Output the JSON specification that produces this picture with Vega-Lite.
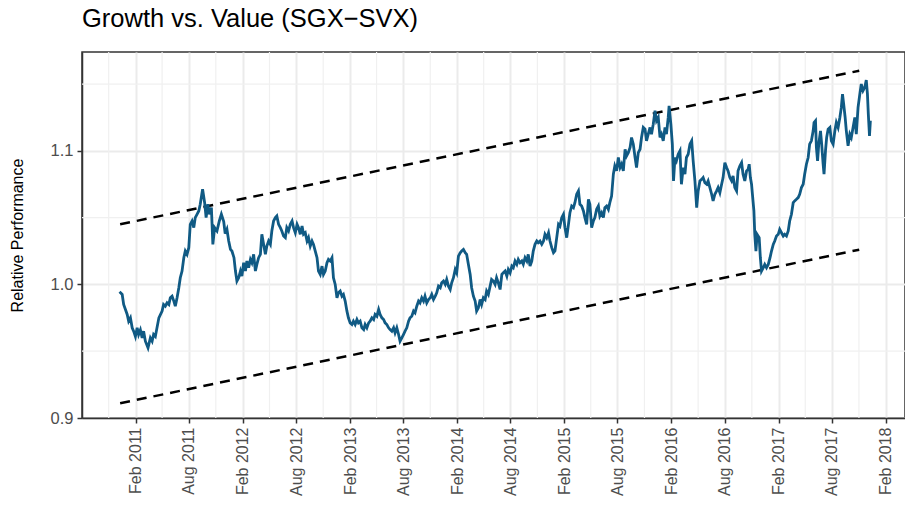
{
  "$schema": "https://vega.github.io/schema/vega-lite/v6.json",
  "autosize": "none",
  "width": 823,
  "height": 366,
  "padding": {"left": 82, "top": 52, "right": 0, "bottom": 111},
  "background": "white",
  "config": {
    "font": "Liberation Sans",
    "view": {"stroke": "#333333", "strokeWidth": 1.5},
    "title": {"fontSize": 25.5, "fontWeight": "normal", "color": "#000000", "anchor": "start", "frame": "group", "offset": 19}
  },
  "title": "Growth vs. Value (SGX−SVX)",
  "datasets": {
    "minorx": [
      {"date": "2010-11-01"}, {"date": "2011-05-02"}, {"date": "2011-11-01"}, {"date": "2012-05-02"},
      {"date": "2012-11-01"}, {"date": "2013-05-02"}, {"date": "2013-11-01"}, {"date": "2014-05-02"},
      {"date": "2014-11-01"}, {"date": "2015-05-02"}, {"date": "2015-11-01"}, {"date": "2016-05-02"},
      {"date": "2016-11-01"}, {"date": "2017-05-02"}, {"date": "2017-11-01"}
    ],
    "minory": [{"value": 0.95}, {"value": 1.05}, {"value": 1.15}],
    "channel": [
      {"date": "2010-12-10", "value": 1.045, "band": "upper"},
      {"date": "2017-11-02", "value": 1.160, "band": "upper"},
      {"date": "2010-12-10", "value": 0.911, "band": "lower"},
      {"date": "2017-11-02", "value": 1.026, "band": "lower"}
    ],
    "perf": [
      {"date": "2010-12-08", "value": 0.9945}, {"date": "2010-12-17", "value": 0.9925}, {"date": "2010-12-22", "value": 0.985},
      {"date": "2011-01-03", "value": 0.9775}, {"date": "2011-01-08", "value": 0.9725}, {"date": "2011-01-14", "value": 0.975},
      {"date": "2011-01-20", "value": 0.9675}, {"date": "2011-01-25", "value": 0.965}, {"date": "2011-01-31", "value": 0.961},
      {"date": "2011-02-06", "value": 0.9675}, {"date": "2011-02-11", "value": 0.9625}, {"date": "2011-02-17", "value": 0.966},
      {"date": "2011-02-23", "value": 0.96}, {"date": "2011-02-28", "value": 0.965}, {"date": "2011-03-06", "value": 0.9575},
      {"date": "2011-03-15", "value": 0.9525}, {"date": "2011-03-23", "value": 0.96}, {"date": "2011-03-29", "value": 0.9575},
      {"date": "2011-04-03", "value": 0.9625}, {"date": "2011-04-09", "value": 0.961}, {"date": "2011-04-21", "value": 0.975},
      {"date": "2011-05-02", "value": 0.98}, {"date": "2011-05-07", "value": 0.985}, {"date": "2011-05-13", "value": 0.9837},
      {"date": "2011-05-19", "value": 0.9862}, {"date": "2011-05-25", "value": 0.985}, {"date": "2011-05-30", "value": 0.99},
      {"date": "2011-06-05", "value": 0.9912}, {"date": "2011-06-11", "value": 0.9875}, {"date": "2011-06-16", "value": 0.9837},
      {"date": "2011-06-22", "value": 0.99}, {"date": "2011-06-28", "value": 0.9975}, {"date": "2011-07-03", "value": 1.005},
      {"date": "2011-07-09", "value": 1.01}, {"date": "2011-07-15", "value": 1.02}, {"date": "2011-07-20", "value": 1.025},
      {"date": "2011-07-26", "value": 1.0225}, {"date": "2011-08-01", "value": 1.0275}, {"date": "2011-08-06", "value": 1.045},
      {"date": "2011-08-12", "value": 1.0475}, {"date": "2011-08-18", "value": 1.0425}, {"date": "2011-08-23", "value": 1.05},
      {"date": "2011-08-29", "value": 1.0525}, {"date": "2011-09-04", "value": 1.055}, {"date": "2011-09-09", "value": 1.06},
      {"date": "2011-09-17", "value": 1.0713}, {"date": "2011-09-24", "value": 1.0612}, {"date": "2011-09-29", "value": 1.05},
      {"date": "2011-10-05", "value": 1.06}, {"date": "2011-10-10", "value": 1.0525}, {"date": "2011-10-17", "value": 1.0575},
      {"date": "2011-10-22", "value": 1.03}, {"date": "2011-10-28", "value": 1.0425}, {"date": "2011-11-05", "value": 1.04},
      {"date": "2011-11-13", "value": 1.0475}, {"date": "2011-11-20", "value": 1.0525}, {"date": "2011-11-28", "value": 1.047},
      {"date": "2011-12-03", "value": 1.038}, {"date": "2011-12-09", "value": 1.0413}, {"date": "2011-12-15", "value": 1.0325},
      {"date": "2011-12-21", "value": 1.0263}, {"date": "2011-12-26", "value": 1.025}, {"date": "2012-01-02", "value": 1.02},
      {"date": "2012-01-07", "value": 1.01}, {"date": "2012-01-12", "value": 1.0025}, {"date": "2012-01-18", "value": 1.005},
      {"date": "2012-01-24", "value": 1.01}, {"date": "2012-01-29", "value": 1.0062}, {"date": "2012-02-04", "value": 1.0162},
      {"date": "2012-02-10", "value": 1.01}, {"date": "2012-02-15", "value": 1.0175}, {"date": "2012-02-21", "value": 1.0125},
      {"date": "2012-02-27", "value": 1.0187}, {"date": "2012-03-03", "value": 1.0162}, {"date": "2012-03-09", "value": 1.0225},
      {"date": "2012-03-15", "value": 1.01}, {"date": "2012-03-20", "value": 1.015}, {"date": "2012-03-26", "value": 1.02},
      {"date": "2012-04-01", "value": 1.0225}, {"date": "2012-04-06", "value": 1.0375}, {"date": "2012-04-12", "value": 1.03},
      {"date": "2012-04-18", "value": 1.0225}, {"date": "2012-04-23", "value": 1.0287}, {"date": "2012-04-29", "value": 1.0325},
      {"date": "2012-05-05", "value": 1.03}, {"date": "2012-05-10", "value": 1.04}, {"date": "2012-05-16", "value": 1.0475},
      {"date": "2012-05-22", "value": 1.05}, {"date": "2012-05-27", "value": 1.0512}, {"date": "2012-06-02", "value": 1.045},
      {"date": "2012-06-08", "value": 1.0425}, {"date": "2012-06-13", "value": 1.04}, {"date": "2012-06-19", "value": 1.0362},
      {"date": "2012-06-25", "value": 1.035}, {"date": "2012-06-30", "value": 1.0425}, {"date": "2012-07-06", "value": 1.04},
      {"date": "2012-07-12", "value": 1.045}, {"date": "2012-07-18", "value": 1.0475}, {"date": "2012-07-23", "value": 1.0425},
      {"date": "2012-07-29", "value": 1.0387}, {"date": "2012-08-04", "value": 1.045}, {"date": "2012-08-09", "value": 1.0425},
      {"date": "2012-08-15", "value": 1.0375}, {"date": "2012-08-21", "value": 1.0437}, {"date": "2012-08-26", "value": 1.0375},
      {"date": "2012-09-01", "value": 1.0387}, {"date": "2012-09-07", "value": 1.0325}, {"date": "2012-09-12", "value": 1.035},
      {"date": "2012-09-18", "value": 1.0287}, {"date": "2012-09-24", "value": 1.0325}, {"date": "2012-09-29", "value": 1.03},
      {"date": "2012-10-05", "value": 1.025}, {"date": "2012-10-11", "value": 1.02}, {"date": "2012-10-16", "value": 1.01},
      {"date": "2012-10-22", "value": 1.0075}, {"date": "2012-10-28", "value": 1.0137}, {"date": "2012-11-02", "value": 1.0075},
      {"date": "2012-11-08", "value": 1.01}, {"date": "2012-11-14", "value": 1.0162}, {"date": "2012-11-19", "value": 1.0187},
      {"date": "2012-11-25", "value": 1.0175}, {"date": "2012-12-01", "value": 1.02}, {"date": "2012-12-06", "value": 1.005},
      {"date": "2012-12-12", "value": 1.0}, {"date": "2012-12-18", "value": 0.99}, {"date": "2012-12-23", "value": 0.9937},
      {"date": "2012-12-29", "value": 0.995}, {"date": "2013-01-04", "value": 0.9912}, {"date": "2013-01-09", "value": 0.9925},
      {"date": "2013-01-15", "value": 0.9875}, {"date": "2013-01-21", "value": 0.98}, {"date": "2013-01-26", "value": 0.975},
      {"date": "2013-02-01", "value": 0.9712}, {"date": "2013-02-07", "value": 0.97}, {"date": "2013-02-12", "value": 0.9725},
      {"date": "2013-02-18", "value": 0.97}, {"date": "2013-02-24", "value": 0.9737}, {"date": "2013-03-01", "value": 0.9712},
      {"date": "2013-03-07", "value": 0.9725}, {"date": "2013-03-13", "value": 0.9675}, {"date": "2013-03-19", "value": 0.9662},
      {"date": "2013-03-24", "value": 0.97}, {"date": "2013-03-30", "value": 0.9675}, {"date": "2013-04-05", "value": 0.9712},
      {"date": "2013-04-10", "value": 0.9725}, {"date": "2013-04-16", "value": 0.975}, {"date": "2013-04-22", "value": 0.9737},
      {"date": "2013-04-27", "value": 0.9775}, {"date": "2013-05-03", "value": 0.9762}, {"date": "2013-05-09", "value": 0.9812},
      {"date": "2013-05-14", "value": 0.9775}, {"date": "2013-05-20", "value": 0.975}, {"date": "2013-05-26", "value": 0.9737},
      {"date": "2013-05-31", "value": 0.9712}, {"date": "2013-06-06", "value": 0.97}, {"date": "2013-06-12", "value": 0.9675},
      {"date": "2013-06-17", "value": 0.9662}, {"date": "2013-06-23", "value": 0.965}, {"date": "2013-06-29", "value": 0.9675},
      {"date": "2013-07-04", "value": 0.9637}, {"date": "2013-07-10", "value": 0.9675}, {"date": "2013-07-16", "value": 0.9625},
      {"date": "2013-07-21", "value": 0.9575}, {"date": "2013-07-27", "value": 0.96}, {"date": "2013-08-02", "value": 0.9625},
      {"date": "2013-08-07", "value": 0.965}, {"date": "2013-08-13", "value": 0.9675}, {"date": "2013-08-19", "value": 0.9725},
      {"date": "2013-08-24", "value": 0.975}, {"date": "2013-08-30", "value": 0.9762}, {"date": "2013-09-05", "value": 0.98},
      {"date": "2013-09-10", "value": 0.9787}, {"date": "2013-09-16", "value": 0.9837}, {"date": "2013-09-22", "value": 0.9875},
      {"date": "2013-09-27", "value": 0.9862}, {"date": "2013-10-03", "value": 0.99}, {"date": "2013-10-09", "value": 0.9875},
      {"date": "2013-10-14", "value": 0.9912}, {"date": "2013-10-20", "value": 0.9862}, {"date": "2013-10-26", "value": 0.9887},
      {"date": "2013-11-01", "value": 0.99}, {"date": "2013-11-06", "value": 0.9925}, {"date": "2013-11-12", "value": 0.9887},
      {"date": "2013-11-18", "value": 0.9912}, {"date": "2013-11-23", "value": 0.9937}, {"date": "2013-11-29", "value": 0.9987},
      {"date": "2013-12-05", "value": 0.9975}, {"date": "2013-12-10", "value": 1.0012}, {"date": "2013-12-16", "value": 1.0025},
      {"date": "2013-12-22", "value": 1.0}, {"date": "2013-12-27", "value": 1.0037}, {"date": "2014-01-02", "value": 0.9987},
      {"date": "2014-01-08", "value": 0.9962}, {"date": "2014-01-13", "value": 1.0012}, {"date": "2014-01-19", "value": 1.005},
      {"date": "2014-01-25", "value": 1.0112}, {"date": "2014-01-30", "value": 1.0087}, {"date": "2014-02-05", "value": 1.0212},
      {"date": "2014-02-11", "value": 1.0237}, {"date": "2014-02-16", "value": 1.025}, {"date": "2014-02-22", "value": 1.0262},
      {"date": "2014-02-28", "value": 1.0237}, {"date": "2014-03-05", "value": 1.0225}, {"date": "2014-03-11", "value": 1.015},
      {"date": "2014-03-17", "value": 1.0075}, {"date": "2014-03-22", "value": 0.9975}, {"date": "2014-03-28", "value": 0.9912},
      {"date": "2014-04-03", "value": 0.9875}, {"date": "2014-04-08", "value": 0.98}, {"date": "2014-04-14", "value": 0.9825},
      {"date": "2014-04-20", "value": 0.9887}, {"date": "2014-04-25", "value": 0.985}, {"date": "2014-05-01", "value": 0.99},
      {"date": "2014-05-07", "value": 0.9887}, {"date": "2014-05-12", "value": 0.995}, {"date": "2014-05-18", "value": 0.9925},
      {"date": "2014-05-24", "value": 0.9987}, {"date": "2014-05-29", "value": 1.0037}, {"date": "2014-06-04", "value": 1.0025},
      {"date": "2014-06-10", "value": 1.0}, {"date": "2014-06-15", "value": 1.005}, {"date": "2014-06-21", "value": 1.0012},
      {"date": "2014-06-27", "value": 0.9962}, {"date": "2014-07-03", "value": 1.0075}, {"date": "2014-07-08", "value": 1.0087},
      {"date": "2014-07-14", "value": 1.01}, {"date": "2014-07-20", "value": 1.0062}, {"date": "2014-07-25", "value": 1.0112},
      {"date": "2014-07-31", "value": 1.0087}, {"date": "2014-08-06", "value": 1.0137}, {"date": "2014-08-11", "value": 1.0125},
      {"date": "2014-08-17", "value": 1.0175}, {"date": "2014-08-23", "value": 1.015}, {"date": "2014-08-28", "value": 1.0187},
      {"date": "2014-09-03", "value": 1.0162}, {"date": "2014-09-09", "value": 1.0175}, {"date": "2014-09-14", "value": 1.015},
      {"date": "2014-09-20", "value": 1.02}, {"date": "2014-09-26", "value": 1.0175}, {"date": "2014-10-01", "value": 1.0225},
      {"date": "2014-10-07", "value": 1.0137}, {"date": "2014-10-13", "value": 1.0175}, {"date": "2014-10-18", "value": 1.025},
      {"date": "2014-10-24", "value": 1.03}, {"date": "2014-10-30", "value": 1.0325}, {"date": "2014-11-04", "value": 1.0312},
      {"date": "2014-11-10", "value": 1.0325}, {"date": "2014-11-16", "value": 1.03}, {"date": "2014-11-22", "value": 1.0325},
      {"date": "2014-11-27", "value": 1.0375}, {"date": "2014-12-03", "value": 1.035}, {"date": "2014-12-09", "value": 1.0387},
      {"date": "2014-12-14", "value": 1.0325}, {"date": "2014-12-20", "value": 1.0275}, {"date": "2014-12-26", "value": 1.0237},
      {"date": "2014-12-31", "value": 1.025}, {"date": "2015-01-06", "value": 1.035}, {"date": "2015-01-12", "value": 1.045},
      {"date": "2015-01-17", "value": 1.0437}, {"date": "2015-01-23", "value": 1.05}, {"date": "2015-01-29", "value": 1.0525},
      {"date": "2015-02-03", "value": 1.0425}, {"date": "2015-02-09", "value": 1.035}, {"date": "2015-02-15", "value": 1.045},
      {"date": "2015-02-20", "value": 1.0537}, {"date": "2015-02-26", "value": 1.0587}, {"date": "2015-03-04", "value": 1.0575},
      {"date": "2015-03-09", "value": 1.0612}, {"date": "2015-03-15", "value": 1.0675}, {"date": "2015-03-21", "value": 1.07},
      {"date": "2015-03-26", "value": 1.06}, {"date": "2015-04-01", "value": 1.0587}, {"date": "2015-04-07", "value": 1.055},
      {"date": "2015-04-12", "value": 1.05}, {"date": "2015-04-18", "value": 1.045}, {"date": "2015-04-24", "value": 1.0637},
      {"date": "2015-04-29", "value": 1.06}, {"date": "2015-05-05", "value": 1.0425}, {"date": "2015-05-11", "value": 1.0475},
      {"date": "2015-05-16", "value": 1.05}, {"date": "2015-05-22", "value": 1.0562}, {"date": "2015-05-28", "value": 1.0587},
      {"date": "2015-06-02", "value": 1.0512}, {"date": "2015-06-08", "value": 1.0537}, {"date": "2015-06-14", "value": 1.05},
      {"date": "2015-06-19", "value": 1.0575}, {"date": "2015-06-25", "value": 1.0587}, {"date": "2015-07-01", "value": 1.0562},
      {"date": "2015-07-06", "value": 1.0612}, {"date": "2015-07-12", "value": 1.0662}, {"date": "2015-07-18", "value": 1.0825},
      {"date": "2015-07-23", "value": 1.0887}, {"date": "2015-07-29", "value": 1.085}, {"date": "2015-08-04", "value": 1.095},
      {"date": "2015-08-10", "value": 1.0875}, {"date": "2015-08-15", "value": 1.09}, {"date": "2015-08-21", "value": 1.085},
      {"date": "2015-08-27", "value": 1.1012}, {"date": "2015-09-01", "value": 1.0962}, {"date": "2015-09-07", "value": 1.0987},
      {"date": "2015-09-13", "value": 1.1025}, {"date": "2015-09-18", "value": 1.11}, {"date": "2015-09-24", "value": 1.105},
      {"date": "2015-09-30", "value": 1.095}, {"date": "2015-10-05", "value": 1.0875}, {"date": "2015-10-11", "value": 1.0987},
      {"date": "2015-10-17", "value": 1.1012}, {"date": "2015-10-22", "value": 1.11}, {"date": "2015-10-28", "value": 1.1175},
      {"date": "2015-11-03", "value": 1.1162}, {"date": "2015-11-08", "value": 1.1075}, {"date": "2015-11-14", "value": 1.1125},
      {"date": "2015-11-20", "value": 1.1175}, {"date": "2015-11-25", "value": 1.1125}, {"date": "2015-12-01", "value": 1.12},
      {"date": "2015-12-07", "value": 1.13}, {"date": "2015-12-12", "value": 1.1225}, {"date": "2015-12-18", "value": 1.125},
      {"date": "2015-12-24", "value": 1.11}, {"date": "2015-12-29", "value": 1.1125}, {"date": "2016-01-04", "value": 1.1075},
      {"date": "2016-01-10", "value": 1.1175}, {"date": "2016-01-15", "value": 1.1125}, {"date": "2016-01-21", "value": 1.125},
      {"date": "2016-01-24", "value": 1.1337}, {"date": "2016-01-30", "value": 1.12}, {"date": "2016-02-04", "value": 1.105},
      {"date": "2016-02-08", "value": 1.0775}, {"date": "2016-02-13", "value": 1.095}, {"date": "2016-02-18", "value": 1.0925},
      {"date": "2016-02-24", "value": 1.0975}, {"date": "2016-03-01", "value": 1.1}, {"date": "2016-03-06", "value": 1.075},
      {"date": "2016-03-12", "value": 1.0875}, {"date": "2016-03-18", "value": 1.0825}, {"date": "2016-03-23", "value": 1.095},
      {"date": "2016-03-29", "value": 1.0975}, {"date": "2016-04-04", "value": 1.105}, {"date": "2016-04-10", "value": 1.1075},
      {"date": "2016-04-15", "value": 1.0925}, {"date": "2016-04-21", "value": 1.0775}, {"date": "2016-04-27", "value": 1.0575},
      {"date": "2016-05-02", "value": 1.07}, {"date": "2016-05-08", "value": 1.0775}, {"date": "2016-05-14", "value": 1.0787},
      {"date": "2016-05-19", "value": 1.08}, {"date": "2016-05-25", "value": 1.0762}, {"date": "2016-05-31", "value": 1.075},
      {"date": "2016-06-05", "value": 1.0775}, {"date": "2016-06-11", "value": 1.0725}, {"date": "2016-06-17", "value": 1.0675},
      {"date": "2016-06-22", "value": 1.0625}, {"date": "2016-06-28", "value": 1.0675}, {"date": "2016-07-04", "value": 1.07},
      {"date": "2016-07-09", "value": 1.0725}, {"date": "2016-07-15", "value": 1.0687}, {"date": "2016-07-21", "value": 1.075},
      {"date": "2016-07-26", "value": 1.08}, {"date": "2016-08-01", "value": 1.0912}, {"date": "2016-08-07", "value": 1.0875},
      {"date": "2016-08-12", "value": 1.085}, {"date": "2016-08-18", "value": 1.08}, {"date": "2016-08-24", "value": 1.0775},
      {"date": "2016-08-29", "value": 1.0812}, {"date": "2016-09-04", "value": 1.0725}, {"date": "2016-09-10", "value": 1.07},
      {"date": "2016-09-15", "value": 1.085}, {"date": "2016-09-21", "value": 1.0887}, {"date": "2016-09-27", "value": 1.0912},
      {"date": "2016-10-02", "value": 1.0825}, {"date": "2016-10-08", "value": 1.0775}, {"date": "2016-10-14", "value": 1.085},
      {"date": "2016-10-19", "value": 1.086}, {"date": "2016-10-23", "value": 1.09}, {"date": "2016-10-27", "value": 1.08},
      {"date": "2016-10-31", "value": 1.075}, {"date": "2016-11-03", "value": 1.0675}, {"date": "2016-11-08", "value": 1.055},
      {"date": "2016-11-11", "value": 1.0375}, {"date": "2016-11-15", "value": 1.025}, {"date": "2016-11-19", "value": 1.0375},
      {"date": "2016-11-26", "value": 1.035}, {"date": "2016-11-30", "value": 1.02}, {"date": "2016-12-04", "value": 1.01},
      {"date": "2016-12-10", "value": 1.0125}, {"date": "2016-12-15", "value": 1.015}, {"date": "2016-12-21", "value": 1.0125},
      {"date": "2016-12-27", "value": 1.015}, {"date": "2017-01-02", "value": 1.02}, {"date": "2017-01-07", "value": 1.025},
      {"date": "2017-01-13", "value": 1.03}, {"date": "2017-01-18", "value": 1.0325}, {"date": "2017-01-24", "value": 1.0362},
      {"date": "2017-01-30", "value": 1.0375}, {"date": "2017-02-04", "value": 1.0412}, {"date": "2017-02-10", "value": 1.0387},
      {"date": "2017-02-16", "value": 1.0362}, {"date": "2017-02-21", "value": 1.0375}, {"date": "2017-02-27", "value": 1.0362},
      {"date": "2017-03-05", "value": 1.04}, {"date": "2017-03-10", "value": 1.0475}, {"date": "2017-03-16", "value": 1.0525},
      {"date": "2017-03-22", "value": 1.0612}, {"date": "2017-03-27", "value": 1.0625}, {"date": "2017-04-02", "value": 1.0637},
      {"date": "2017-04-08", "value": 1.065}, {"date": "2017-04-13", "value": 1.0675}, {"date": "2017-04-19", "value": 1.0725},
      {"date": "2017-04-25", "value": 1.075}, {"date": "2017-04-30", "value": 1.0825}, {"date": "2017-05-06", "value": 1.09},
      {"date": "2017-05-12", "value": 1.095}, {"date": "2017-05-17", "value": 1.105}, {"date": "2017-05-23", "value": 1.1075},
      {"date": "2017-05-29", "value": 1.115}, {"date": "2017-06-01", "value": 1.1212}, {"date": "2017-06-06", "value": 1.1225},
      {"date": "2017-06-09", "value": 1.1025}, {"date": "2017-06-13", "value": 1.0925}, {"date": "2017-06-17", "value": 1.105},
      {"date": "2017-06-23", "value": 1.115}, {"date": "2017-06-27", "value": 1.105}, {"date": "2017-07-02", "value": 1.09},
      {"date": "2017-07-05", "value": 1.0825}, {"date": "2017-07-10", "value": 1.1}, {"date": "2017-07-14", "value": 1.11},
      {"date": "2017-07-19", "value": 1.1162}, {"date": "2017-07-25", "value": 1.1175}, {"date": "2017-07-30", "value": 1.1075},
      {"date": "2017-08-05", "value": 1.105}, {"date": "2017-08-11", "value": 1.115}, {"date": "2017-08-16", "value": 1.1212},
      {"date": "2017-08-22", "value": 1.1175}, {"date": "2017-08-28", "value": 1.125}, {"date": "2017-09-02", "value": 1.1325},
      {"date": "2017-09-06", "value": 1.1425}, {"date": "2017-09-10", "value": 1.135}, {"date": "2017-09-15", "value": 1.125},
      {"date": "2017-09-19", "value": 1.115}, {"date": "2017-09-25", "value": 1.1037}, {"date": "2017-10-01", "value": 1.1125},
      {"date": "2017-10-06", "value": 1.11}, {"date": "2017-10-12", "value": 1.1175}, {"date": "2017-10-18", "value": 1.125},
      {"date": "2017-10-23", "value": 1.1125}, {"date": "2017-10-29", "value": 1.1325}, {"date": "2017-11-04", "value": 1.1425},
      {"date": "2017-11-09", "value": 1.15}, {"date": "2017-11-15", "value": 1.145}, {"date": "2017-11-21", "value": 1.1475},
      {"date": "2017-11-26", "value": 1.153}, {"date": "2017-11-30", "value": 1.1425}, {"date": "2017-12-03", "value": 1.1275},
      {"date": "2017-12-07", "value": 1.1112}, {"date": "2017-12-10", "value": 1.1225}
    ]
  },
  "layer": [
    {
      "data": {"name": "minorx"},
      "mark": {"type": "rule", "color": "#F0F0F0", "strokeWidth": 1.2},
      "encoding": {
        "x": {
          "field": "date", "type": "temporal",
          "scale": {"type": "utc", "domain": [{"year": 2010, "month": 8, "date": 2, "utc": true}, {"year": 2018, "month": 4, "date": 7, "utc": true}]},
          "axis": {
            "title": null,
            "values": [
              {"year": 2011, "month": 2, "date": 1, "utc": true}, {"year": 2011, "month": 8, "date": 1, "utc": true},
              {"year": 2012, "month": 2, "date": 1, "utc": true}, {"year": 2012, "month": 8, "date": 1, "utc": true},
              {"year": 2013, "month": 2, "date": 1, "utc": true}, {"year": 2013, "month": 8, "date": 1, "utc": true},
              {"year": 2014, "month": 2, "date": 1, "utc": true}, {"year": 2014, "month": 8, "date": 1, "utc": true},
              {"year": 2015, "month": 2, "date": 1, "utc": true}, {"year": 2015, "month": 8, "date": 1, "utc": true},
              {"year": 2016, "month": 2, "date": 1, "utc": true}, {"year": 2016, "month": 8, "date": 1, "utc": true},
              {"year": 2017, "month": 2, "date": 1, "utc": true}, {"year": 2017, "month": 8, "date": 1, "utc": true},
              {"year": 2018, "month": 2, "date": 1, "utc": true}
            ],
            "labelExpr": "utcFormat(datum.value, '%b %Y')",
            "labelAngle": 270, "labelFontSize": 16, "labelColor": "#4D4D4D", "labelPadding": 4,
            "tickColor": "#333333", "tickSize": 5, "tickWidth": 1.5,
            "domainColor": "#333333", "domainWidth": 1.5,
            "gridColor": "#EBEBEB", "gridWidth": 2
          }
        }
      }
    },
    {
      "data": {"name": "minory"},
      "mark": {"type": "rule", "color": "#F0F0F0", "strokeWidth": 1.2},
      "encoding": {
        "y": {
          "field": "value", "type": "quantitative",
          "scale": {"domain": [0.9, 1.174], "nice": false, "zero": false},
          "axis": {
            "title": "Relative Performance", "titleFontSize": 16, "titleFontWeight": "normal", "titleColor": "#000000", "titlePadding": 25,
            "values": [0.9, 1.0, 1.1], "format": ".1f",
            "labelFontSize": 16.5, "labelColor": "#4D4D4D", "labelPadding": 4,
            "tickColor": "#333333", "tickSize": 5, "tickWidth": 1.5,
            "domainColor": "#333333", "domainWidth": 1.5,
            "gridColor": "#EBEBEB", "gridWidth": 2
          }
        }
      }
    },
    {
      "data": {"name": "channel"},
      "mark": {"type": "line", "color": "#000000", "strokeWidth": 2.5, "strokeDash": [10, 7]},
      "encoding": {
        "x": {"field": "date", "type": "temporal"},
        "y": {"field": "value", "type": "quantitative"},
        "detail": {"field": "band"}
      }
    },
    {
      "data": {"name": "perf"},
      "mark": {"type": "line", "color": "#105A84", "strokeWidth": 2.8},
      "encoding": {
        "x": {"field": "date", "type": "temporal"},
        "y": {"field": "value", "type": "quantitative"}
      }
    }
  ]
}
